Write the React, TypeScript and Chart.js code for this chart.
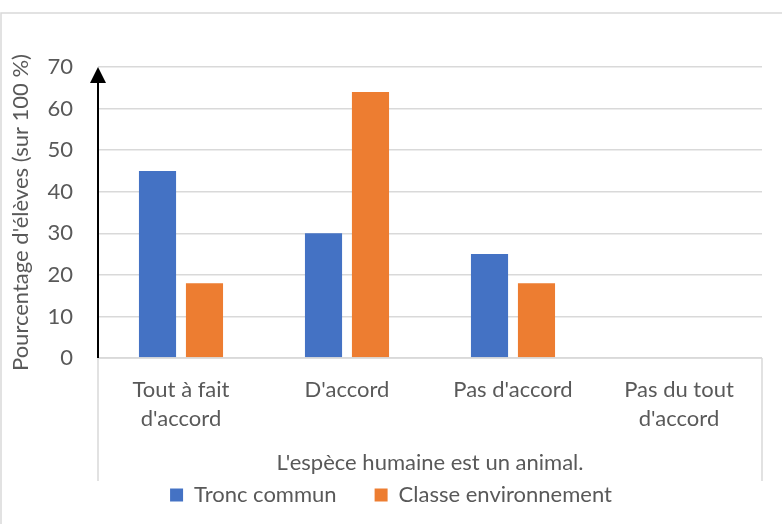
import React, { useEffect, useRef } from "react";
import { Chart, registerables } from "chart.js";

Chart.register(...registerables);

const categories: (string | string[])[] = [
  ["Tout à fait", "d'accord"],
  "D'accord",
  "Pas d'accord",
  ["Pas du tout", "d'accord"],
];
const troncCommun = [45, 30, 25, 0];
const classeEnvironnement = [18, 64, 18, 0];
const yTitle = "Pourcentage d'élèves (sur 100 %)";
const xTitle = "L'espèce humaine est un animal.";
const seriesNames = ["Tronc commun", "Classe environnement"];

const FONT = "Lato";
const SIZE = 22;
const TEXT = "#595959";
const GRID = "#d9d9d9";

const decorations = {
  id: "decorations",
  afterDraw(chart: any) {
    const { ctx, chartArea } = chart;
    const { left, right, top, bottom } = chartArea;
    ctx.save();
    // outer border (top + left)
    ctx.strokeStyle = GRID;
    ctx.lineWidth = 1.5;
    ctx.beginPath();
    ctx.moveTo(1, 524);
    ctx.lineTo(1, 13);
    ctx.lineTo(782, 13);
    ctx.stroke();
    // category box lines
    ctx.beginPath();
    ctx.moveTo(left, bottom);
    ctx.lineTo(right, bottom);
    ctx.moveTo(left, bottom);
    ctx.lineTo(left, bottom + 123);
    ctx.moveTo(right, bottom);
    ctx.lineTo(right, bottom + 123);
    ctx.stroke();
    // arrow axis
    ctx.strokeStyle = "#000";
    ctx.fillStyle = "#000";
    ctx.lineWidth = 2;
    ctx.beginPath();
    ctx.moveTo(left, bottom);
    ctx.lineTo(left, top + 14);
    ctx.stroke();
    ctx.beginPath();
    ctx.moveTo(left, top);
    ctx.lineTo(left - 8, top + 16);
    ctx.lineTo(left + 8, top + 16);
    ctx.closePath();
    ctx.fill();
    ctx.restore();
  },
};

export default function App() {
  const ref = useRef<HTMLCanvasElement>(null);
  useEffect(() => {
    if (!ref.current) return;
    const chart = new Chart(ref.current, {
      type: "bar",
      data: {
        labels: categories,
        datasets: [
          {
            label: seriesNames[0],
            data: troncCommun,
            backgroundColor: "#4472C4",
            categoryPercentage: 0.566,
            barPercentage: 0.79,
          },
          {
            label: seriesNames[1],
            data: classeEnvironnement,
            backgroundColor: "#ED7D31",
            categoryPercentage: 0.566,
            barPercentage: 0.79,
          },
        ],
      },
      options: {
        responsive: false,
        animation: false,
        layout: { padding: { top: 67, left: 8, right: 8, bottom: 8 } },
        plugins: {
          tooltip: { enabled: false },
          legend: {
            position: "bottom",
            labels: {
              color: TEXT,
              font: { family: FONT, size: SIZE },
              boxWidth: 13,
              boxHeight: 13,
              padding: 38,
            },
          },
        },
        scales: {
          x: {
            afterFit: (s: any) => {
              s.height = 88;
            },
            grid: { display: false, drawTicks: false },
            border: { display: false },
            ticks: {
              color: TEXT,
              font: { family: FONT, size: SIZE, lineHeight: 1.32 },
              padding: 17,
              maxRotation: 0,
            },
            title: {
              display: true,
              text: xTitle,
              color: TEXT,
              font: { family: FONT, size: SIZE, lineHeight: 1.0 },
              padding: { top: 0, bottom: -28 },
            },
          },
          y: {
            afterFit: (s: any) => {
              s.width = 90;
            },
            min: 0,
            max: 70,
            ticks: {
              stepSize: 10,
              color: TEXT,
              font: { family: FONT, size: SIZE },
              padding: 25,
            },
            grid: { color: GRID, lineWidth: 1.5, drawTicks: false },
            border: { display: false },
            title: {
              display: true,
              text: yTitle,
              color: TEXT,
              font: { family: FONT, size: SIZE, lineHeight: 1.2 },
              padding: { top: 0, bottom: 0 },
            },
          },
        },
      },
      plugins: [
        decorations,
        {
          id: "rightEdge",
          afterLayout(chart: any) {
            // keep plot area right edge at 762 while legend spans full width
            chart.chartArea.right = 762;
            const x = chart.scales.x;
            x.right = 762;
            x.width = 762 - x.left;
            x.configure();
            x.ticks.forEach(() => {});
          },
        },
      ],
    });
    return () => chart.destroy();
  }, []);
  return (
    <canvas
      ref={ref}
      width={782}
      height={524}
      style={{ position: "absolute", left: 0, top: 0, display: "block", background: "#fff" }}
    />
  );
}
